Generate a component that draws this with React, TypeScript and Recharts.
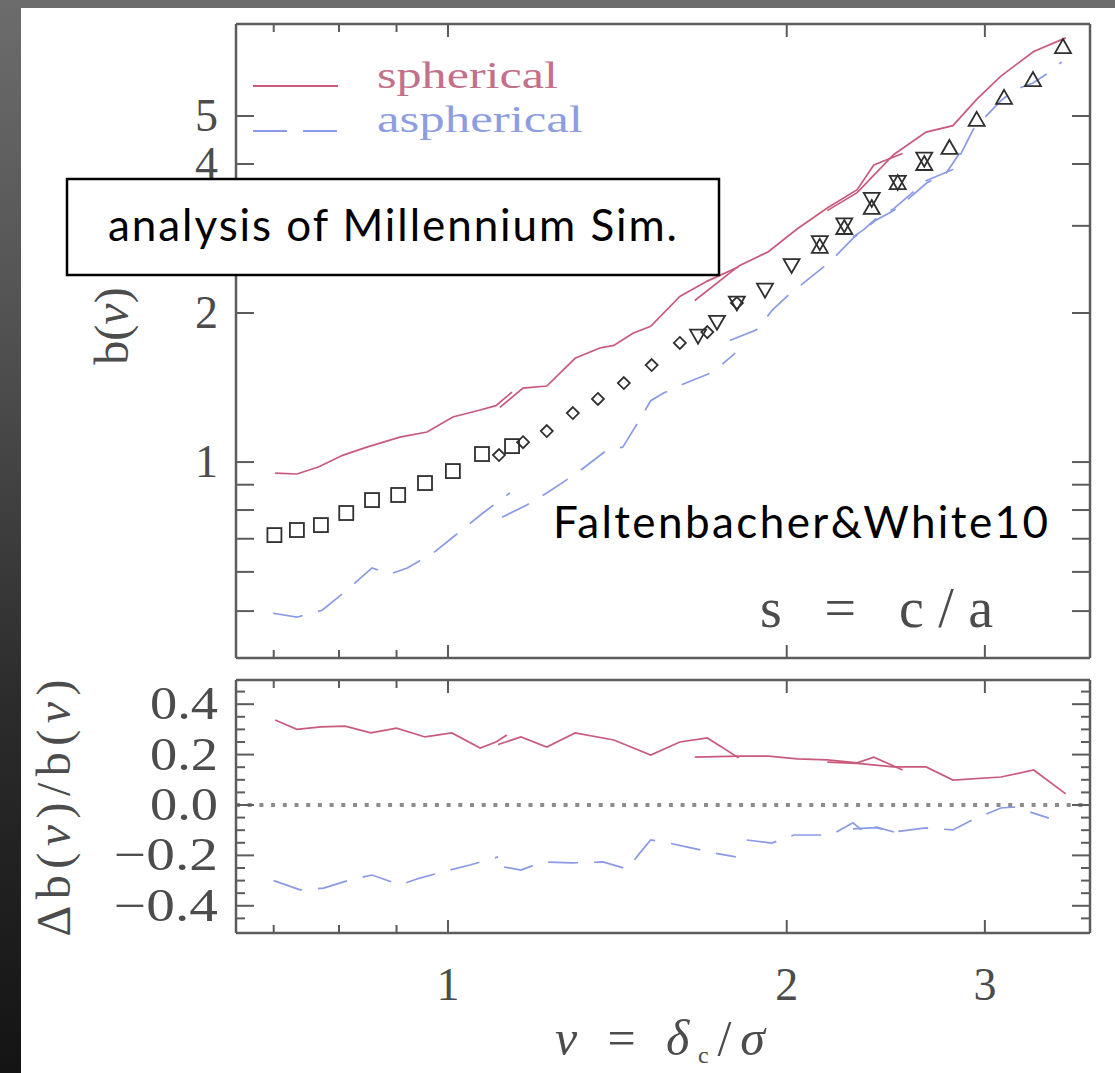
import React from "react";
import { ComposedChart, Line, Scatter, XAxis, YAxis, ReferenceLine } from "recharts";

// nu = delta_c / sigma, shared log x axis of both panels
const xTicks = [0.7, 0.8, 0.9, 1, 2, 3];
const xLabels: Record<string, string> = { "1": "1", "2": "2", "3": "3" };

// upper panel: b(nu), log y ("3" sits under the annotation box on the slide)
const bTicks = [0.5, 0.6, 0.7, 0.8, 0.9, 1, 2, 3, 4, 5];
const bLabels: Record<string, string> = { "1": "1", "2": "2", "4": "4", "5": "5" };

// lower panel: relative difference
const dTicks = [-0.45, -0.4, -0.35, -0.3, -0.25, -0.2, -0.15, -0.1, -0.05, 0, 0.05, 0.1, 0.15, 0.2, 0.25, 0.3, 0.35, 0.4, 0.45];
const dLabels: Record<string, string> = { "0.4": "0.4", "0.2": "0.2", "0": "0.0", "-0.2": "\u22120.2", "-0.4": "\u22120.4" };

// spherical (red, solid) runs
const sph1Nu = [0.702, 0.734, 0.767, 0.807, 0.847, 0.906, 0.958, 1.01, 1.068, 1.103, 1.14];
const sph1B = [0.95, 0.946, 0.977, 1.033, 1.072, 1.123, 1.15, 1.233, 1.274, 1.3, 1.385];
const sph2Nu = [1.112, 1.166, 1.224, 1.297, 1.364, 1.404, 1.46, 1.514, 1.607, 1.7, 1.813];
const sph2B = [1.29, 1.41, 1.424, 1.62, 1.7, 1.72, 1.82, 1.88, 2.16, 2.32, 2.48];
const sph3Nu = [1.657, 1.813, 1.926, 2.044, 2.173, 2.31, 2.39, 2.535];
const sph3B = [2.12, 2.49, 2.66, 2.96, 3.26, 3.55, 3.98, 4.2];
const sph4Nu = [2.173, 2.31, 2.49, 2.66, 2.81, 2.95, 3.1, 3.315, 3.54];
const sph4B = [3.22, 3.5, 4.18, 4.64, 4.78, 5.4, 6.02, 6.75, 7.19];

// aspherical (blue, dashed) runs
const asph1Nu = [0.699, 0.734, 0.773, 0.813, 0.856, 0.888, 0.92, 0.97, 1.01, 1.074, 1.135];
const asph1B = [0.495, 0.486, 0.502, 0.551, 0.611, 0.594, 0.611, 0.655, 0.705, 0.789, 0.866];
const asph2Nu = [1.117, 1.175, 1.224, 1.302, 1.384, 1.43, 1.481, 1.514, 1.556, 1.633, 1.72, 1.8];
const asph2B = [0.774, 0.819, 0.866, 0.95, 1.057, 1.072, 1.22, 1.33, 1.38, 1.45, 1.52, 1.66];
const asph3Nu = [1.78, 1.88, 1.943, 2.013, 2.085, 2.19, 2.29, 2.4, 2.49, 2.556, 2.663, 2.773, 2.849];
const asph3B = [1.76, 1.85, 2.03, 2.19, 2.33, 2.55, 2.83, 3.08, 3.22, 3.38, 3.66, 3.84, 4.21];
const asph4Nu = [2.29, 2.343, 2.4, 2.49, 2.66, 2.81, 2.93, 3.1, 3.19, 3.31, 3.42, 3.51];
const asph4B = [2.85, 2.95, 3.1, 3.25, 3.7, 3.9, 4.7, 5.37, 5.65, 5.83, 6.12, 6.43];

// measured bias (open symbols)
const sqNu = [0.701, 0.734, 0.771, 0.812, 0.856, 0.903, 0.954, 1.01, 1.072, 1.14];
const sqB = [0.712, 0.729, 0.746, 0.789, 0.838, 0.858, 0.907, 0.959, 1.038, 1.077];
const diaNu = [1.11, 1.166, 1.224, 1.291, 1.359, 1.433, 1.517, 1.607, 1.7, 1.806];
const diaB = [1.033, 1.097, 1.155, 1.256, 1.341, 1.444, 1.57, 1.74, 1.83, 2.095];
const triDnNu = [1.668, 1.734, 1.806, 1.913, 2.02, 2.14, 2.25, 2.38, 2.51, 2.65];
const triDnB = [1.8, 1.92, 2.1, 2.23, 2.5, 2.78, 3.02, 3.4, 3.68, 4.1];
const triUpNu = [2.14, 2.25, 2.38, 2.51, 2.65, 2.79, 2.95, 3.12, 3.31, 3.52];
const triUpB = [2.72, 2.97, 3.26, 3.66, 4.0, 4.31, 4.91, 5.44, 5.91, 6.89];

// lower panel runs
const dSph1Nu = [0.702, 0.734, 0.771, 0.81, 0.854, 0.9, 0.954, 1.008, 1.068, 1.103, 1.128];
const dSph1 = [0.337, 0.3, 0.31, 0.313, 0.286, 0.305, 0.27, 0.286, 0.226, 0.25, 0.278];
const dSph2Nu = [1.108, 1.161, 1.224, 1.297, 1.404, 1.514, 1.607, 1.7, 1.813];
const dSph2 = [0.24, 0.27, 0.23, 0.286, 0.258, 0.198, 0.25, 0.266, 0.187];
const dSph3Nu = [1.657, 1.813, 1.926, 2.044, 2.173, 2.31, 2.39, 2.535];
const dSph3 = [0.19, 0.194, 0.194, 0.183, 0.179, 0.167, 0.19, 0.139];
const dSph4Nu = [2.173, 2.31, 2.49, 2.66, 2.81, 3.1, 3.315, 3.54];
const dSph4 = [0.17, 0.165, 0.151, 0.151, 0.099, 0.111, 0.139, 0.044];

const dAsph1Nu = [0.7, 0.739, 0.775, 0.823, 0.856, 0.906, 0.944, 1.004, 1.046, 1.108];
const dAsph1 = [-0.3, -0.337, -0.33, -0.294, -0.278, -0.317, -0.29, -0.258, -0.238, -0.206];
const dAsph2Nu = [1.121, 1.161, 1.214, 1.29, 1.373, 1.443, 1.481, 1.514, 1.556, 1.633, 1.72, 1.802];
const dAsph2 = [-0.246, -0.258, -0.226, -0.23, -0.226, -0.254, -0.19, -0.139, -0.147, -0.167, -0.19, -0.206];
const dAsph3Nu = [1.843, 1.94, 2.03, 2.19, 2.29, 2.343, 2.4, 2.49];
const dAsph3 = [-0.139, -0.151, -0.119, -0.119, -0.071, -0.107, -0.087, -0.107];
const dAsph4Nu = [2.29, 2.4, 2.49, 2.66, 2.81, 2.92, 3.1, 3.19, 3.29, 3.42];
const dAsph4 = [-0.095, -0.09, -0.107, -0.091, -0.099, -0.06, -0.012, -0.008, -0.028, -0.052];

const X_DOMAIN: [number, number] = [0.648, 3.72];
const B_DOMAIN: [number, number] = [0.402, 7.67];
const D_DOMAIN: [number, number] = [-0.508, 0.496];

const RED = "#c95a7c";
const BLUE = "#8a9ae6";
const INK = "#4c4c4c";
const FRAME = "#5c5c5c";
const MARK = "#2f2f2f";
const SERIF = "'Liberation Serif', 'DejaVu Serif', serif";
const SANS = "Lato, 'Open Sans', sans-serif";

const zip = (nu: number[], v: number[], key: string) => nu.map((n, i) => ({ nu: n, [key]: v[i] }));

const xTick = (side: "top" | "bottom", labels: boolean) => (p: any) => {
  const v = p.payload.value;
  const len = v >= 1 ? 13 : 8;
  const dir = side === "bottom" ? -1 : 1;
  const lab = xLabels[String(v)];
  return (
    <g>
      <line x1={p.x} x2={p.x} y1={p.y} y2={p.y + dir * len} stroke={FRAME} strokeWidth={2} />
      {labels && lab && (
        <text x={p.x} y={p.y + 67} textAnchor="middle" fontFamily={SERIF} fontSize={46} fill={INK}>
          {lab}
        </text>
      )}
    </g>
  );
};

// computer-modern digits are wider than Liberation's, stretch the decimals a bit
const labelWidth = (s: string) => (s.length === 4 ? 104 : s.length === 3 ? 68 : undefined);

// minorLen equal to 18 means every tick is full length (log panel)
const yTick = (side: "left" | "right", labels: Record<string, string> | null, minorLen: number) => (p: any) => {
  const v = p.payload.value;
  const lab = labels ? labels[String(v)] : undefined;
  const major = dLabels[String(v)] !== undefined || minorLen === 18;
  const len = major ? 18 : minorLen;
  const dir = side === "left" ? 1 : -1;
  return (
    <g>
      <line x1={p.x} x2={p.x + dir * len} y1={p.y} y2={p.y} stroke={FRAME} strokeWidth={2} />
      {lab && (
        <text x={p.x - 18} y={p.y + 15} textAnchor="end" fontFamily={SERIF} fontSize={46} fill={INK}
          textLength={labelWidth(lab)} lengthAdjust="spacingAndGlyphs">
          {lab}
        </text>
      )}
    </g>
  );
};

const squareShape = (p: any) => (
  <rect x={p.cx - 7} y={p.cy - 7} width={14} height={14} fill="none" stroke={MARK} strokeWidth={1.8} />
);
const diamondShape = (p: any) => (
  <polygon
    points={`${p.cx},${p.cy - 6} ${p.cx + 6},${p.cy} ${p.cx},${p.cy + 6} ${p.cx - 6},${p.cy}`}
    fill="none"
    stroke={MARK}
    strokeWidth={1.8}
  />
);
const triUpShape = (p: any) => (
  <polygon
    points={`${p.cx},${p.cy - 8} ${p.cx + 8},${p.cy + 6} ${p.cx - 8},${p.cy + 6}`}
    fill="none"
    stroke={MARK}
    strokeWidth={1.8}
  />
);
const triDownShape = (p: any) => (
  <polygon
    points={`${p.cx - 8},${p.cy - 6} ${p.cx + 8},${p.cy - 6} ${p.cx},${p.cy + 8}`}
    fill="none"
    stroke={MARK}
    strokeWidth={1.8}
  />
);

const DASH = "30 16";
const axisLine = { stroke: FRAME, strokeWidth: 2.5 };

// axes are 1px thick so recharts renders them; margins absorb that pixel
const TopPanel = () => {
  const red = [zip(sph1Nu, sph1B, "b"), zip(sph2Nu, sph2B, "b"), zip(sph3Nu, sph3B, "b"), zip(sph4Nu, sph4B, "b")];
  const blue = [zip(asph1Nu, asph1B, "b"), zip(asph2Nu, asph2B, "b"), zip(asph3Nu, asph3B, "b"), zip(asph4Nu, asph4B, "b")];
  return (
    <ComposedChart width={1115} height={700} margin={{ top: 23, right: 24, bottom: 41, left: 235 }}>
      <XAxis dataKey="nu" type="number" scale="log" domain={X_DOMAIN} allowDataOverflow ticks={xTicks} interval={0}
        height={1} tickSize={0} tickMargin={0} tickLine={false} axisLine={axisLine} tick={xTick("bottom", false)} />
      <XAxis xAxisId="t" orientation="top" dataKey="nu" type="number" scale="log" domain={X_DOMAIN} allowDataOverflow
        ticks={xTicks} interval={0} height={1} tickSize={0} tickMargin={0} tickLine={false} axisLine={axisLine} tick={xTick("top", false)} />
      <YAxis dataKey="b" type="number" scale="log" domain={B_DOMAIN} allowDataOverflow ticks={bTicks} interval={0}
        width={1} tickSize={0} tickMargin={0} tickLine={false} axisLine={axisLine} tick={yTick("left", bLabels, 18)} />
      <YAxis yAxisId="r" orientation="right" dataKey="b" type="number" scale="log" domain={B_DOMAIN} allowDataOverflow
        ticks={bTicks} interval={0} width={1} tickSize={0} tickMargin={0} tickLine={false} axisLine={axisLine} tick={yTick("right", null, 18)} />
      {red.map((d, i) => (
        <Line key={`r${i}`} data={d} dataKey="b" type="linear" stroke={RED} strokeWidth={1.7} dot={false} isAnimationActive={false} />
      ))}
      {blue.map((d, i) => (
        <Line key={`b${i}`} data={d} dataKey="b" type="linear" stroke={BLUE} strokeWidth={1.7} strokeDasharray={DASH} dot={false} isAnimationActive={false} />
      ))}
      <Scatter data={zip(sqNu, sqB, "b")} dataKey="b" shape={squareShape} isAnimationActive={false} />
      <Scatter data={zip(diaNu, diaB, "b")} dataKey="b" shape={diamondShape} isAnimationActive={false} />
      <Scatter data={zip(triDnNu, triDnB, "b")} dataKey="b" shape={triDownShape} isAnimationActive={false} />
      <Scatter data={zip(triUpNu, triUpB, "b")} dataKey="b" shape={triUpShape} isAnimationActive={false} />
    </ComposedChart>
  );
};

const BottomPanel = () => {
  const red = [zip(dSph1Nu, dSph1, "d"), zip(dSph2Nu, dSph2, "d"), zip(dSph3Nu, dSph3, "d"), zip(dSph4Nu, dSph4, "d")];
  const blue = [zip(dAsph1Nu, dAsph1, "d"), zip(dAsph2Nu, dAsph2, "d"), zip(dAsph3Nu, dAsph3, "d"), zip(dAsph4Nu, dAsph4, "d")];
  return (
    <ComposedChart width={1115} height={413} margin={{ top: 19, right: 24, bottom: 139, left: 235 }}>
      <XAxis dataKey="nu" type="number" scale="log" domain={X_DOMAIN} allowDataOverflow ticks={xTicks} interval={0}
        height={1} tickSize={0} tickMargin={0} tickLine={false} axisLine={axisLine} tick={xTick("bottom", true)} />
      <XAxis xAxisId="t" orientation="top" dataKey="nu" type="number" scale="log" domain={X_DOMAIN} allowDataOverflow
        ticks={xTicks} interval={0} height={1} tickSize={0} tickMargin={0} tickLine={false} axisLine={axisLine} tick={xTick("top", false)} />
      <YAxis dataKey="d" type="number" domain={D_DOMAIN} allowDataOverflow ticks={dTicks} interval={0}
        width={1} tickSize={0} tickMargin={0} tickLine={false} axisLine={axisLine} tick={yTick("left", dLabels, 9)} />
      <YAxis yAxisId="r" orientation="right" dataKey="d" type="number" domain={D_DOMAIN} allowDataOverflow ticks={dTicks}
        interval={0} width={1} tickSize={0} tickMargin={0} tickLine={false} axisLine={axisLine} tick={yTick("right", null, 9)} />
      <ReferenceLine y={0} stroke="#8c8c8c" strokeWidth={4} strokeDasharray="4 7.7" />
      {red.map((d, i) => (
        <Line key={`r${i}`} data={d} dataKey="d" type="linear" stroke={RED} strokeWidth={1.7} dot={false} isAnimationActive={false} />
      ))}
      {blue.map((d, i) => (
        <Line key={`b${i}`} data={d} dataKey="d" type="linear" stroke={BLUE} strokeWidth={1.7} strokeDasharray={DASH} dot={false} isAnimationActive={false} />
      ))}
    </ComposedChart>
  );
};

const Overlay = () => (
  <svg width={1115} height={1073} style={{ position: "absolute", left: 0, top: 0, pointerEvents: "none" }}>
    {/* legend */}
    <line x1={253} x2={338} y1={86} y2={86} stroke={RED} strokeWidth={1.8} />
    <text x={377} y={88} fontFamily={SERIF} fontSize={38} fill="#c4708a" textLength={181} lengthAdjust="spacingAndGlyphs">spherical</text>
    <line x1={253} x2={338} y1={131} y2={131} stroke={BLUE} strokeWidth={1.8} strokeDasharray="34 16" />
    <text x={377} y={132} fontFamily={SERIF} fontSize={38} fill="#8d9de2" textLength={206} lengthAdjust="spacingAndGlyphs">aspherical</text>

    {/* axis titles */}
    <text transform="rotate(-90 128 326)" x={128} y={326} textAnchor="middle" fontFamily={SERIF} fontSize={48} fill={INK}>
      b(<tspan fontStyle="italic">ν</tspan>)
    </text>
    <text transform="rotate(-90 70 808)" x={70} y={808} textAnchor="middle" fontFamily={SERIF} fontSize={48} fill={INK} textLength={257}>
      Δb(<tspan fontStyle="italic">ν</tspan>)/b(<tspan fontStyle="italic">ν</tspan>)
    </text>
    <text x={555} y={1055} fontFamily={SERIF} fontSize={50} fill={INK} textLength={210}>
      <tspan fontStyle="italic">ν</tspan>
      <tspan> = </tspan>
      <tspan fontStyle="italic">δ</tspan>
      <tspan fontSize={24} dy={8}>c</tspan>
      <tspan dy={-8}>/</tspan>
      <tspan fontStyle="italic">σ</tspan>
    </text>
    <text x={760} y={627} fontFamily={SERIF} fontSize={56} fill={INK} textLength={233}>s = c/a</text>

    {/* slide annotations */}
    <rect x={67} y={179} width={652} height={96} fill="#fff" stroke="#000" strokeWidth={2.5} />
    <text x={108} y={241} fontFamily={SANS} fontSize={44} fill="#000" textLength={569}>analysis of Millennium Sim.</text>
    <text x={553} y={538} fontFamily={SANS} fontSize={44} fill="#000" textLength={495}>Faltenbacher&amp;White10</text>
  </svg>
);

export default function App() {
  return (
    <div
      style={{
        position: "fixed",
        left: 0,
        top: 0,
        width: 1115,
        height: 1073,
        overflow: "hidden",
        background: "linear-gradient(180deg, #6c6c6c 0%, #525252 30%, #2c2c2c 65%, #141414 100%)",
      }}
    >
      <div style={{ position: "absolute", left: 21, top: 8, width: 1094, height: 1065, background: "#fff" }} />
      <div style={{ position: "absolute", left: 0, top: 0 }}>
        <TopPanel />
      </div>
      <div style={{ position: "absolute", left: 0, top: 660 }}>
        <BottomPanel />
      </div>
      <Overlay />
    </div>
  );
}
